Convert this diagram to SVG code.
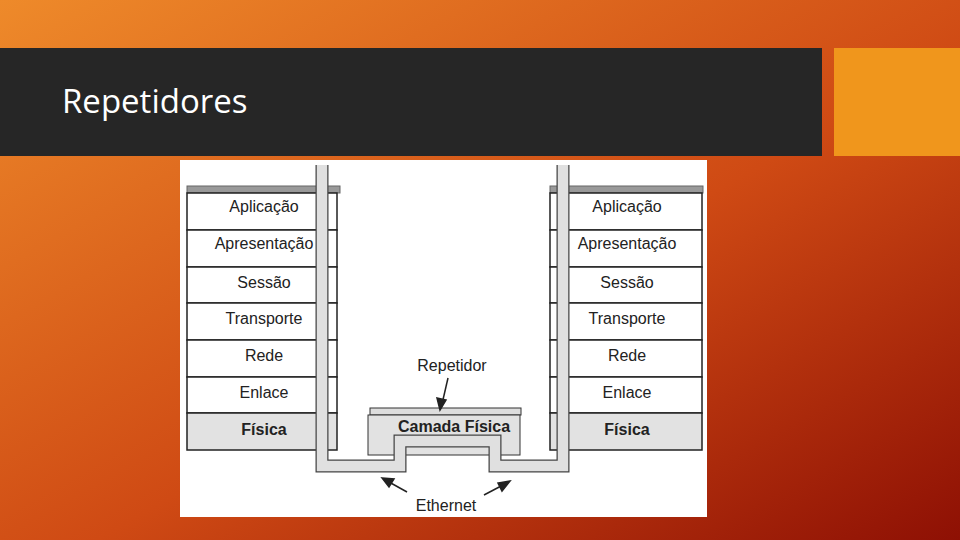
<svg xmlns="http://www.w3.org/2000/svg" width="960" height="540" viewBox="0 0 960 540">
<defs>
<linearGradient id="bg" x1="0" y1="0" x2="1" y2="1">
<stop offset="0" stop-color="#ee8a2a"/><stop offset="0.55" stop-color="#cf4a14"/><stop offset="1" stop-color="#8e1004"/>
</linearGradient>
</defs>
<style>
.row{fill:#fff;stroke:#222;stroke-width:1.5}
.fis{fill:#e2e2e2;stroke:#222;stroke-width:1.5}
.t{font-family:"Liberation Sans",Arial,sans-serif;font-size:16px;fill:#222;text-anchor:middle}
.b{font-weight:bold}
</style>
<rect width="960" height="540" fill="url(#bg)"/>
<rect x="0" y="48" width="822" height="108" fill="#262626"/>
<rect x="834" y="48" width="126" height="108" fill="#f0961c"/>
<text x="62" y="113" font-family="Open Sans,Liberation Sans,sans-serif" font-size="33" fill="#fff">Repetidores</text>
<rect x="180" y="160" width="527" height="357" fill="#fff"/>
<g id="left-stack">
<rect x="187" y="186" width="153" height="7" fill="#999" stroke="#666"/>
<rect class="row" x="187" y="193" width="150" height="37" stroke="#bbb"/>
<rect class="row" x="187" y="230" width="150" height="37" stroke="#bbb"/>
<rect class="row" x="187" y="267" width="150" height="36"/>
<rect class="row" x="187" y="303" width="150" height="37"/>
<rect class="row" x="187" y="340" width="150" height="37" stroke="#bbb"/>
<rect class="row" x="187" y="377" width="150" height="36" stroke="#bbb"/>
<rect class="fis" x="187" y="413" width="150" height="37"/>
<text class="t" x="264" y="212">Aplicação</text>
<text class="t" x="264" y="249">Apresentação</text>
<text class="t" x="264" y="288">Sessão</text>
<text class="t" x="264" y="324">Transporte</text>
<text class="t" x="264" y="361">Rede</text>
<text class="t" x="264" y="398">Enlace</text>
<text class="t b" x="264" y="435">Física</text>
</g>
<g id="right-stack">
<rect x="550" y="186" width="153" height="7" fill="#999" stroke="#666"/>
<rect class="row" x="550" y="193" width="152" height="37" stroke="#bbb"/>
<rect class="row" x="550" y="230" width="152" height="37" stroke="#bbb"/>
<rect class="row" x="550" y="267" width="152" height="36"/>
<rect class="row" x="550" y="303" width="152" height="37"/>
<rect class="row" x="550" y="340" width="152" height="37" stroke="#bbb"/>
<rect class="row" x="550" y="377" width="152" height="36" stroke="#bbb"/>
<rect class="fis" x="550" y="413" width="152" height="37"/>
<text class="t" x="627" y="212">Aplicação</text>
<text class="t" x="627" y="249">Apresentação</text>
<text class="t" x="627" y="288">Sessão</text>
<text class="t" x="627" y="324">Transporte</text>
<text class="t" x="627" y="361">Rede</text>
<text class="t" x="627" y="398">Enlace</text>
<text class="t b" x="627" y="435">Física</text>
</g>
<g id="repetidor">
<rect x="370" y="408" width="151" height="7" fill="#ddd" stroke="#333"/>
<rect x="368" y="415" width="152" height="40" fill="#e2e2e2" stroke="#333"/>
<text class="t b" x="454" y="432">Camada Física</text>
<text class="t" x="452" y="371">Repetidor</text>
</g>
<g id="connectors">
<path d="M322,165 V466 H400 V441 H495 V466 H563 V165" fill="none" stroke="#444" stroke-width="13"/>
<path d="M322,165 V466 H400 V441 H495 V466 H563 V165" fill="none" stroke="#e0e0e0" stroke-width="10.5"/>
<g stroke="#222" stroke-width="1.5" fill="#222">
<line x1="448" y1="378" x2="442" y2="404"/><polygon points="440,410 437,398 446,400"/>
<line x1="407" y1="492" x2="389" y2="482"/><polygon points="382,478 394,479 389,487"/>
<line x1="484" y1="495" x2="503" y2="485"/><polygon points="510,481 498,483 502,491"/>
</g>
<text class="t" x="446" y="511">Ethernet</text>
</g>
</svg>
